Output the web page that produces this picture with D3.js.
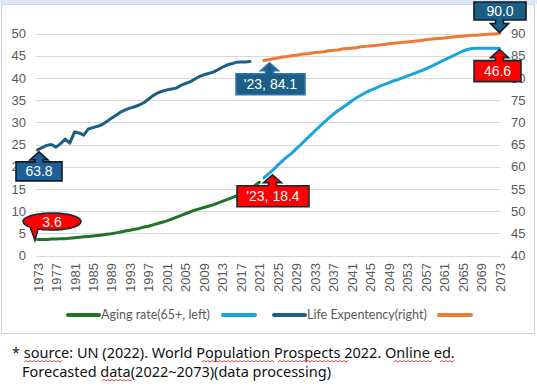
<!DOCTYPE html>
<html><head><meta charset="utf-8">
<script src="https://cdn.jsdelivr.net/npm/d3@7"></script>
<style>
html,body{margin:0;padding:0;background:#fff;}
svg{display:block;}
</style></head><body>
<svg id="c" width="537" height="386"></svg>
<script>
// ---------- DATA ----------
const histStart = 1973;   // first historical year
const projStart = 2022;   // first projected year
const labelYear = 2023;   // year annotated in callouts
const tickYears = [1973,1977,1981,1985,1989,1993,1997,2001,2005,2009,2013,2017,2021,2025,2029,2033,2037,2041,2045,2049,2053,2057,2061,2065,2069,2073];
const leftTicks = [0,5,10,15,20,25,30,35,40,45,50];
const rightTicks = [40,45,50,55,60,65,70,75,80,85,90];

// Aging rate (65+, %) 1973-2021
const agingHist = [3.6,3.6,3.6,3.7,3.7,3.8,3.8,3.9,4.0,4.1,
  4.2,4.3,4.4,4.5,4.6,4.8,4.9,5.1,5.3,5.5,
  5.7,5.9,6.1,6.4,6.6,6.9,7.2,7.5,7.8,8.2,
  8.6,9.0,9.4,9.8,10.2,10.5,10.8,11.1,11.4,11.8,
  12.2,12.6,13.0,13.4,13.9,14.4,15.0,15.7,16.5];
// Aging rate projection 2022-2073
const agingProj = [17.5,18.4,19.3,20.3,21.3,22.2,23.0,24.0,25.0,26.0,27.0,
  28.0,29.0,30.0,30.9,31.8,32.6,33.3,34.0,34.8,35.5,
  36.1,36.7,37.2,37.6,38.1,38.5,38.9,39.3,39.6,40.0,
  40.4,40.8,41.2,41.6,42.0,42.5,43.0,43.5,44.0,44.5,
  45.0,45.5,46.0,46.4,46.6,46.7,46.7,46.7,46.7,46.7,
  46.6];
// Life expectancy 1973-2019
const lifeHist = [63.8,64.3,64.8,65.0,64.4,65.2,66.2,65.3,67.8,67.6,
  67.1,68.5,68.8,69.1,69.5,70.2,70.9,71.6,72.3,72.8,
  73.2,73.5,73.9,74.4,75.2,76.0,76.6,77.0,77.3,77.5,
  77.7,78.3,78.7,79.1,79.7,80.3,80.7,81.0,81.3,81.8,
  82.4,82.9,83.2,83.5,83.6,83.6,83.7];
// Life expectancy projection 2022-2073
const lifeProj = [83.9,84.1,84.3,84.5,84.7,84.8,85.0,85.1,85.3,85.4,85.5,
  85.7,85.8,85.9,86.1,86.2,86.3,86.5,86.6,86.7,86.8,
  87.0,87.1,87.2,87.3,87.4,87.5,87.7,87.8,87.9,88.0,
  88.1,88.2,88.3,88.4,88.6,88.7,88.8,88.9,89.0,89.1,
  89.2,89.3,89.4,89.5,89.6,89.6,89.7,89.8,89.9,89.9,
  90.0];

const legendLabels = ["Aging rate(65+, left)", "", "Life Expentency(right)", ""];
const footLines = ["* source: UN (2022). World Population Prospects 2022. Online ed.",
                   "Forecasted data(2022~2073)(data processing)"];

// ---------- CHART ----------
const COL = {green:"#1f7427", light:"#1aa3dc", dark:"#1c5f86", orange:"#ec7a35"};
const svg = d3.select("#c");

svg.append("rect").attr("x",0).attr("y",0).attr("width",537).attr("height",4).attr("fill","#dde7f2");
svg.append("rect").attr("x",1.5).attr("y",4.5).attr("width",533).attr("height",329)
  .attr("fill","#fff").attr("stroke","#d4d4d4").attr("stroke-width",1);

const x = d3.scaleLinear().domain([1973,2073]).range([37.5,499.5]);
const yL = d3.scaleLinear().domain([0,50]).range([255.5,33.5]);
const yR = d3.scaleLinear().domain([40,90]).range([255.5,33.5]);

svg.append("g").selectAll("line").data(leftTicks).join("line")
  .attr("x1",36).attr("x2",500.5)
  .attr("y1",d=>Math.round(yL(d))+0.5).attr("y2",d=>Math.round(yL(d))+0.5)
  .attr("stroke","#d9d9d9").attr("stroke-width",1);

const tickFont = "'Liberation Sans', Arial, sans-serif";
const gL = svg.append("g").attr("transform","translate(37,0)")
  .call(d3.axisLeft(yL).tickValues(leftTicks).tickSize(0).tickPadding(11));
const gR = svg.append("g").attr("transform","translate(500,0)")
  .call(d3.axisRight(yR).tickValues(rightTicks).tickSize(0).tickPadding(11));
const gX = svg.append("g").attr("transform","translate(0,256)")
  .call(d3.axisBottom(x).tickValues(tickYears).tickFormat(d3.format("d")).tickSize(0));
gX.selectAll("text").attr("transform","rotate(-90)")
  .attr("text-anchor","end").attr("x",-7).attr("y",0).attr("dy","0.35em");
[gL,gR,gX].forEach(g=>{
  g.select(".domain").remove();
  g.selectAll("text").attr("fill","#595959").style("font-family",tickFont).style("font-size","13px");
});

const line = (yScale,start)=>d3.line().x((d,i)=>x(start+i)).y(d=>yScale(d));
const addLine=(data,ys,start,col)=>svg.append("path").datum(data)
  .attr("d",line(ys,start)).attr("fill","none").attr("stroke",col)
  .attr("stroke-width",3).attr("stroke-linejoin","round").attr("stroke-linecap","round");
addLine(agingHist,yL,histStart,COL.green);
addLine(agingProj,yL,projStart,COL.light);
addLine(lifeHist,yR,histStart,COL.dark);
addLine(lifeProj,yR,projStart,COL.orange);

// ---------- CALLOUTS ----------
const lblFont = "'Liberation Sans', Arial, sans-serif";
function addText(cx,cy,text){
  svg.append("text").attr("x",cx).attr("y",cy).attr("dy","0.36em")
    .attr("text-anchor","middle").attr("fill","#fff").style("font-family",lblFont).style("font-size","14px").text(text);
}
function upCallout(tx,ty,bx0,bx1,by0,by1,fill,stroke,text){
  const hb = ty+8, nh=4, hh=9;
  const p = `M${bx0},${by0} L${tx-nh},${by0} L${tx-nh},${hb} L${tx-hh},${hb} L${tx},${ty} L${tx+hh},${hb} L${tx+nh},${hb} L${tx+nh},${by0} L${bx1},${by0} L${bx1},${by1} L${bx0},${by1} Z`;
  svg.append("path").attr("d",p).attr("fill",fill).attr("stroke",stroke).attr("stroke-width",1.6);
  addText((bx0+bx1)/2,(by0+by1)/2,text);
}
function downCallout(tx,ty,bx0,bx1,by0,by1,fill,stroke,text){
  const hb = ty-9, nh=4, hh=9;
  const p = `M${bx0},${by0} L${bx1},${by0} L${bx1},${by1} L${tx+nh},${by1} L${tx+nh},${hb} L${tx+hh},${hb} L${tx},${ty} L${tx-hh},${hb} L${tx-nh},${hb} L${tx-nh},${by1} L${bx0},${by1} Z`;
  svg.append("path").attr("d",p).attr("fill",fill).attr("stroke",stroke).attr("stroke-width",1.6);
  addText((bx0+bx1)/2,(by0+by1)/2,text);
}
const fmt = d3.format(".1f");
const li = labelYear-projStart;
const lastA = agingProj[agingProj.length-1], lastL = lifeProj[lifeProj.length-1];
{ const tx=x(histStart)+1.5, ty=yR(lifeHist[0])+2;
  upCallout(tx,ty,16,62,ty+10,ty+29,"#1f5f99","#111c28",fmt(lifeHist[0])); }
{ const tx=x(labelYear)+1, ty=yR(lifeProj[li])+3;
  upCallout(tx,ty,236,305,ty+11,ty+32,"#1c5f86","#2e75b6","'"+String(labelYear).slice(2)+", "+fmt(lifeProj[li])); }
{ const tx=x(labelYear)+4, ty=yL(agingProj[li])+1;
  upCallout(tx,ty,237,309,ty+11,ty+32,"#ff0000","#1b2633","'"+String(labelYear).slice(2)+", "+fmt(agingProj[li])); }
{ const tx=x(2073), ty=yL(lastA)+1;
  upCallout(tx,ty,474,521,ty+11,ty+32,"#ff0000","#1b2633",fmt(lastA)); }
{ const tx=x(2073), ty=yR(lastL)-1;
  downCallout(tx,ty,474,526,2,20,"#1c5f86","#111c28",fmt(lastL)); }
{ const cx=52, cy=221.5, rx=29, ry=8.5;
  const tx=x(histStart)-2.5, ty=yL(agingHist[0])+1;
  const t0=139*Math.PI/180, t1=(119+360)*Math.PI/180;
  const pts=[];
  for(let k=0;k<=60;k++){const t=t0+(t1-t0)*k/60; pts.push([cx+rx*Math.cos(t), cy+ry*Math.sin(t)]);}
  pts.push([tx,ty]);
  svg.append("path").attr("d","M"+pts.map(p=>p.join(",")).join("L")+"Z")
    .attr("fill","#ff0000").attr("stroke","#1b2633").attr("stroke-width",1.6);
  addText(cx,cy,fmt(agingHist[0]));
}

// ---------- LEGEND ----------
const legFont = "Lato, 'Liberation Sans', sans-serif";
const legItems = [
  {col:COL.green, x0:68, x1:99, label:legendLabels[0], tx:101},
  {col:COL.light, x0:223, x1:255, label:legendLabels[1]},
  {col:COL.dark, x0:274, x1:305, label:legendLabels[2], tx:307},
  {col:COL.orange, x0:439, x1:471, label:legendLabels[3]}
];
legItems.forEach(it=>{
  svg.append("line").attr("x1",it.x0).attr("x2",it.x1).attr("y1",315).attr("y2",315)
    .attr("stroke",it.col).attr("stroke-width",4).attr("stroke-linecap","round");
  if(it.label) svg.append("text").attr("x",it.tx).attr("y",315).attr("dy","0.35em")
    .attr("fill","#595959").style("font-family",legFont).style("font-size","12.5px").text(it.label);
});

// ---------- FOOTNOTE ----------
const footFont = "'Noto Sans', 'Liberation Sans', sans-serif";
svg.append("text").attr("x",12).attr("y",358).style("font-family",footFont).style("font-size","14.5px")
  .attr("fill","#111").text(footLines[0]);
svg.append("text").attr("x",22).attr("y",377).style("font-family",footFont).style("font-size","14.5px")
  .attr("fill","#111").text(footLines[1]);
function squiggle(x0,x1,y){
  let d=`M${x0},${y}`; let up=true;
  for(let xx=x0+2; xx<=x1; xx+=2){ d+=` L${xx},${up?y-1.5:y}`; up=!up; }
  svg.append("path").attr("d",d).attr("fill","none").attr("stroke","#e03030").attr("stroke-width",0.9);
}
[[24,62,362],[202,274,362],[278,348,362],[394,433,362],[440,455,362],[102,132,381]].forEach(s=>squiggle(...s));
</script>
</body></html>
